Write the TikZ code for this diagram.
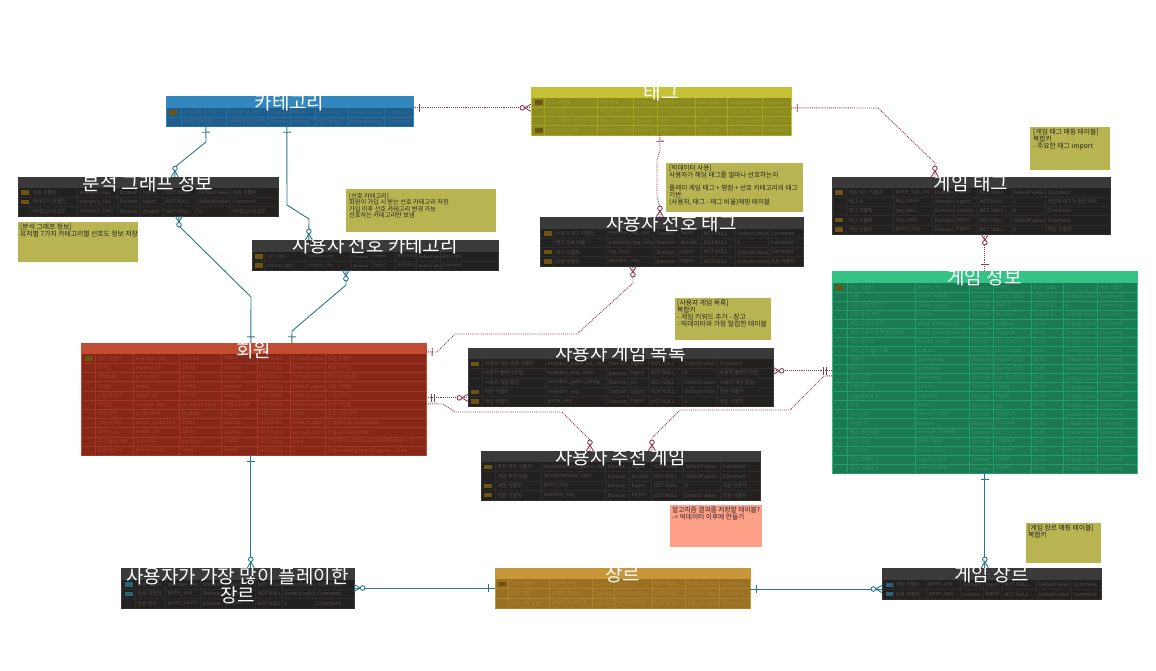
\documentclass[tikz,border=0pt]{standalone}
\usepackage{fontspec}
\setmainfont{Noto Sans CJK KR}
\usetikzlibrary{fit,decorations.markings}
\AtBeginDocument{\catcode`\_=12 }

% table colours
\definecolor{blueHead}{HTML}{3287BE}\definecolor{blueBody}{HTML}{1F5E8C}\definecolor{blueText}{HTML}{3A6C94}
\definecolor{oliveHead}{HTML}{C4C234}\definecolor{oliveBody}{HTML}{8B8B1E}\definecolor{oliveText}{HTML}{9C9C38}
\definecolor{darkHead}{HTML}{3A3A3A}\definecolor{darkBody}{HTML}{232120}\definecolor{darkText}{HTML}{524D48}
\definecolor{greenHead}{HTML}{34C384}\definecolor{greenBody}{HTML}{1A7A52}\definecolor{greenText}{HTML}{389466}
\definecolor{redHead}{HTML}{C24B33}\definecolor{redBody}{HTML}{862718}\definecolor{redText}{HTML}{A24432}
\definecolor{goldHead}{HTML}{C8963A}\definecolor{goldBody}{HTML}{9A7022}\definecolor{goldText}{HTML}{AD853A}
\definecolor{keycol}{HTML}{6E5414}
\definecolor{fkeycol}{HTML}{2A6278}
\definecolor{noteolive}{HTML}{B8B452}
\definecolor{notesalmon}{HTML}{FFA088}
\definecolor{linkteal}{HTML}{287887}
\definecolor{linkred}{HTML}{8C3C50}

\tikzset{
  tabletitle/.style={text=white, font=\fontsize{19}{19}\selectfont, inner sep=0pt, align=center},
  cell/.style={anchor=west, inner sep=0pt, font=\fontsize{5}{5}\selectfont},
  note/.style={anchor=north west, align=left, inner sep=0pt, text=black!85,
    font=\fontsize{6.8}{7}\selectfont},
  rel/.style={line width=0.9pt},
  teallink/.style={rel, linkteal},
  dotlink/.style={rel, linkred, densely dotted},
  one/.style={postaction={decorate, decoration={markings,
    mark=at position 6pt with {\draw[solid] (0pt,-4pt) -- (0pt,4pt);}}}},
  onlyone/.style={postaction={decorate, decoration={markings,
    mark=at position 5pt with {\draw[solid] (0pt,-4pt) -- (0pt,4pt);},
    mark=at position 8pt with {\draw[solid] (0pt,-4pt) -- (0pt,4pt);}}}},
  many/.style={postaction={decorate, decoration={markings,
    mark=at position 1 with {\draw[solid] (-6pt,0pt) -- (0pt,3.5pt) (-6pt,0pt) -- (0pt,-3.5pt);
      \draw[solid, fill=white] (-8.5pt,0pt) circle (2.3pt);}}}},
}

% #1 node, #2 colour set, #3 x1, #4 y1, #5 x2, #6 y2, #7 header bottom
\newcommand{\erdtable}[7]{%
  \fill[#2Body] (#3,#4) rectangle (#5,#6);
  \fill[#2Head] (#3,#4) rectangle (#5,#7);
  \draw[#2Head, line width=0.8pt] (#3,#4) rectangle (#5,#6);
  \node[fit={(#3,#4) (#5,#6)}, inner sep=0pt] (#1) {};
}
% #1 node, #2 colour set, #3 x2, #4 first row top, #5 row height, #6 column starts, #7 rows
\newcommand{\erdrows}[7]{%
  \pgfmathsetmacro{\xa}{{#6}[0]}
  \foreach \row [count=\ri] in {#7} {
    \pgfmathsetmacro{\rtop}{#4+(\ri-1)*#5}
    \pgfmathsetmacro{\rmid}{#4+(\ri-0.5)*#5}
    \pgfmathsetmacro{\rbot}{#4+\ri*#5}
    \draw[#2Head!45!#2Body, line width=0.6pt] (\xa,\rbot) -- (#3,\rbot);
    \foreach \cell [count=\ci] in \row {
      \pgfmathsetmacro{\cx}{{#6}[\ci-1]}
      \ifnum\ci=1
        \ifnum\strcmp{\cell}{k}=0
          \fill[keycol] (\cx+3,\rmid-2.2) rectangle (\cx+11,\rmid+2.2);
        \fi
        \ifnum\strcmp{\cell}{f}=0
          \fill[fkeycol] (\cx+3,\rmid-2.2) rectangle (\cx+11,\rmid+2.2);
        \fi
      \else
        \draw[#2Head!45!#2Body, line width=0.6pt] (\cx,\rtop) -- (\cx,\rbot);
        \node[cell, #2Text] (#1-\ri-\ci) at (\cx+2.5,\rmid) {\cell};
      \fi
    }
  }
}

\begin{document}
\begin{tikzpicture}[x=1pt,y=-1pt]
\fill[white] (0,0) rectangle (1156,670);
\useasboundingbox (0,0) rectangle (1156,670);

% categories
\erdtable{cat}{blue}{166}{96}{413}{126}{108}
\erdrows{cat}{blue}{413}{108}{9}{166,181,226,268,290,315,348,384}{%
{k,카테고리 식별자,category_seq,Domain,bigint,NOT NULL,Default value,Comment},%
{-,카테고리 이름,category_name,Domain,varchar,NOT NULL,Default value,Comment}}
\node[tabletitle] (cat-title) at ([yshift=-7pt]cat.north) {카테고리};

% tags
\erdtable{tag}{olive}{531}{87}{791}{135}{98}
\erdrows{tag}{olive}{791}{98}{9.25}{532,544,597,633,657,695,727,762}{%
{k,태그 식별자,tag_seq,Domain,bigint,NOT NULL,Default value,Comment},%
{-,태그 이름,tag_name,Domain,varchar(255),NULL,Default value,Comment},%
{-,태그 이름 한글버전,tag_name_kr,Domain,text,NULL,Default value,Comment},%
{k,카테고리 식별자,category_seq,Domain,bigint,NOT NULL,Default value,Comment}}
\node[tabletitle] (tag-title) at ([yshift=-6pt]tag.north) {태그};

% analysis graph
\erdtable{graph}{dark}{18}{177}{278}{216}{188}
\erdrows{graph}{dark}{278}{188}{9.33}{18,30,77,117,140,163,196,230}{%
{k,회원 식별자,member_seq,Domain,bigint,NOT NULL,Default value,회원 식별자},%
{k,카테고리 식별자,category_seq,Domain,bigint,NOT NULL,Default value,Comment},%
{-,카테고리 선호도,category_ratio,Domain,double,NOT NULL,0,카테고리 선호도}}
\node[tabletitle] (graph-title) at ([yshift=-7pt]graph.north) {분석 그래프 정보};

% preferred categories
\erdtable{prefcat}{dark}{252}{240}{498}{270}{252}
\begin{scope}[cell/.append style={font=\fontsize{4}{4}\selectfont}]
\erdrows{prefcat}{dark}{498}{252}{9}{252,264,305,351,372,395,416,440}{%
{k,회원 식별자,member_seq,Domain,bigint,NOT NULL,Default value,회원 식별자},%
{k,카테고리 식별자,category_seq,Domain,bigint,NOT NULL,Default value,Comment}}
\end{scope}
\node[tabletitle] (prefcat-title) at ([yshift=-6pt]prefcat.north) {사용자 선호 카테고리};

% preferred tags
\erdtable{preftag}{dark}{540}{217}{803}{266}{229}
\erdrows{preftag}{dark}{803}{229}{9.25}{541,553,606,654,678,701,735,768}{%
{k,사용자 태그 식별자,member_tag_seq,Domain,bigint,NOT NULL,Default value,Comment},%
{-,태그 선호 비율,preferred_tag_ratio,Domain,double,NOT NULL,0,Comment},%
{k,태그 식별자,tag_seq2,Domain,bigint,NOT NULL,Default value,Comment},%
{k,회원 식별자,member_seq,Domain,bigint,NOT NULL,Default value,회원 식별자}}
\node[tabletitle] (preftag-title) at ([yshift=-7pt]preftag.north) {사용자 선호 태그};

% game tags
\erdtable{gametag}{dark}{832}{177}{1110}{234}{188}
\erdrows{gametag}{dark}{1110}{188}{9.2}{832,846,893,932,954,977,1011,1045}{%
{k,게임 태그 식별자,game_tag_seq,Domain,bigint,NOT NULL,Default value,Comment},%
{-,태그 수,tag_count,Domain,bigint,NOT NULL,0,게임에 태그가 달린 횟수},%
{-,태그 가중치,tag_ratio,Domain,double,NOT NULL,0,Comment},%
{k,태그 식별자,tag_seq2,Domain,bigint,NOT NULL,Default value,Comment},%
{k,게임 식별자,game_seq,Domain,bigint,NOT NULL,0,게임 식별자}}
\node[tabletitle] (gametag-title) at ([yshift=-7pt]gametag.north) {게임 태그};

% games
\erdtable{game}{green}{832}{271}{1137}{473}{283}
\erdrows{game}{green}{1137}{283}{9.05}{832,847,915,969,993,1031,1063,1097}{%
{k,게임 식별자,game_seq,Domain,bigint,NOT NULL,0,게임 식별자},%
{-,이름,game_name,Domain,varchar(255),NOT NULL,Default value,Comment},%
{-,스팀 고유 아이디,steam_appid,Domain,bigint,NOT NULL,0,Comment},%
{-,무료 게임 여부,is_free,Domain,boolean,NOT NULL,Default value,Comment},%
{-,게임 스토리 요약,short_description,Domain,longtext,NULL,Default value,Comment},%
{-,게임 스토리 요약 한글버전,short_description_kr,Domain,longtext,NULL,Default value,Comment},%
{-,헤더 이미지,header_image,Domain,varchar(255),NULL,Default value,Comment},%
{-,게임 공식 웹사이트,website,Domain,varchar(255),NULL,Default value,Comment},%
{-,개발자,developers,Domain,varchar(255),NULL,Default value,Comment},%
{-,제조사,publisher,Domain,varchar(255),NULL,Default value,Comment},%
{-,실행 환경,platforms,Domain,varchar(255),NULL,Default value,Comment},%
{-,스팀 추천 수,positive,Domain,bigint,NULL,Default value,Comment},%
{-,스팀 비추천 수,negative,Domain,bigint,NULL,Default value,Comment},%
{-,가격,price,Domain,int,NULL,Default value,Comment},%
{-,출시일자,release_date,Domain,longtext,NULL,Default value,Comment},%
{-,트레일러,movies,Domain,longtext,NULL,Default value,Comment},%
{-,평균 게임 시간,average_forever,Domain,int,NULL,Default value,Comment},%
{-,지원 언어,languages,Domain,longtext,NULL,Default value,Comment},%
{-,스크린샷,screenshots,Domain,longtext,NULL,Default value,Comment},%
{-,최소 구매자 수,owners_min,Domain,bigint,NULL,Default value,Comment},%
{-,최대 구매자 수,owners_max,Domain,bigint,NULL,Default value,Comment}}
\node[tabletitle] (game-title) at ([yshift=-7pt]game.north) {게임 정보};

% members
\erdtable{member}{red}{81}{343}{426}{455}{354}
\erdrows{member}{red}{426}{354}{9.2}{82,95,133,179,221,257,290,325}{%
{k,회원 식별자,member_seq,Domain,bigint,NOT NULL,Default value,회원 식별자},%
{-,아이디,express_id,String,varchar,NOT NULL,Default value,회원 아이디},%
{-,비밀번호,password,String,varchar,NOT NULL,Default value,회원 비밀번호},%
{-,이메일,email,String,varchar,NOT NULL,Default value,회원 이메일},%
{-,스팀 아이디,steam_id,String,varchar,NOT NULL,Default value,스팀 아이디},%
{-,가입일,created_date,LocalDateTime,TIMESTAMP,NOT NULL,Default value,회원 가입일},%
{-,삭제 여부,is_deleted,boolean,tinyint,NOT NULL,false,회원 삭제 여부},%
{-,스팀 닉네임,steam_nickname,String,varchar,NOT NULL,Default value,스팀 API personaname},%
{-,아바타 url,avatar_url,String,varchar,NOT NULL,Default value,스팀 API avatarfull},%
{-,공개 설정 여부,is_public,boolean,tinyint,NOT NULL,false,스팀 API communityvisibilitystate → 3},%
{-,보유 게임 수,game_count,Long,bigint,NOT NULL,0,스팀 owned game API game_count}}
\node[tabletitle] (member-title) at ([yshift=-7.5pt]member.north) {회원};

% member game list
\erdtable{gamelist}{dark}{468}{348}{773}{406}{359}
\erdrows{gamelist}{dark}{773}{359}{9.4}{468,482,545,606,628,648,682,717}{%
{k,사용자 게임 목록 식별자,member_game_list_seq,Domain,bigint,NOT NULL,Default value,Comment},%
{-,사용자 플레이 타임,member_play_time,Domain,bigint,NOT NULL,0,사용자 플레이 타임},%
{-,사용자 게임 평점,member_game_rating,Domain,int,NOT NULL,Default value,사용자 게임 평점},%
{k,회원 식별자,member_seq,Domain,bigint,NOT NULL,Default value,회원 식별자},%
{k,게임 식별자,game_seq,Domain,bigint,NOT NULL,0,게임 식별자}}
\node[tabletitle] (gamelist-title) at ([yshift=-5.5pt]gamelist.north) {사용자 게임 목록};

% recommended games
\erdtable{recgame}{dark}{481}{451}{760}{500}{462}
\erdrows{recgame}{dark}{760}{462}{9.5}{481,495,541,605,629,651,683,720}{%
{k,추천 게임 식별자,recommended_game_seq,Domain,bigint,NOT NULL,Default value,Comment},%
{-,게임 추천 비율,recommended_ratio,Domain,double,NOT NULL,Default value,Comment},%
{k,게임 식별자,game_seq,Domain,bigint,NOT NULL,0,게임 식별자},%
{k,회원 식별자,member_seq,Domain,bigint,NOT NULL,Default value,회원 식별자}}
\node[tabletitle] (recgame-title) at ([yshift=-7pt]recgame.north) {사용자 추천 게임};

% most played genre
\erdtable{topgenre}{dark}{121}{568}{354}{608}{580}
\erdrows{topgenre}{dark}{354}{580}{9.3}{122,135,165,200,225,255,282,315}{%
{f,회원 식별자,member_seq,Domain,bigint,NOT NULL,Default value,회원 식별자},%
{f,장르 식별자,genre_seq,Domain,bigint,NOT NULL,Default value,Comment},%
{-,장르 횟수,genre_count,Domain,bigint,NOT NULL,0,Comment}}
\node[tabletitle] (topgenre-title) at ([yshift=-18pt]topgenre.north) {사용자가 가장 많이 플레이한\\장르};

% genres
\erdtable{genre}{gold}{495}{568}{750}{608}{579}
\erdrows{genre}{gold}{750}{579}{9.67}{495,508,549,592,614,652,685,719}{%
{k,장르 식별자,genre_seq,Domain,bigint,NOT NULL,Default value,Comment},%
{-,장르 이름,genre_name,Domain,varchar(255),NOT NULL,Default value,Comment},%
{-,장르 이름 한글,genre_name_kr,Domain,varchar(255),NOT NULL,Default value,Comment}}
\node[tabletitle] (genre-title) at ([yshift=-6.5pt]genre.north) {장르};

% game genres
\erdtable{gamegenre}{dark}{882}{568}{1101}{599}{580}
\erdrows{gamegenre}{dark}{1101}{580}{9.5}{883,893,926,960,983,1002,1036,1071}{%
{f,게임 식별자,game_seq,Domain,bigint,NOT NULL,Default value,Comment},%
{f,장르 식별자,genre_seq,Domain,bigint,NOT NULL,Default value,Comment}}
\node[tabletitle] (gamegenre-title) at ([yshift=-7pt]gamegenre.north) {게임 장르};

% notes
\fill[noteolive] (18,222) rectangle (138,262);
\node[note] (graph-note) at (20,224)
  {[분석 그래프 정보]\\유저별 7가지 카테고리별 선호도 정보 저장};
\fill[noteolive] (346,189) rectangle (496,232);
\node[note, font=\fontsize{6.2}{6.4}\selectfont] (prefcat-note) at (349,193)
  {[선호 카테고리]\\회원이 가입 시 받는 선호 카테고리 저장\\가입 이후 선호 카테고리 변경 가능\\선호하는 카테고리만 보냄};
\fill[noteolive] (666,163) rectangle (803,212);
\node[note, font=\fontsize{6.6}{7}\selectfont] (preftag-note) at (669,165)
  {[빅데이터 사용]\\사용자가 해당 태그를 얼마나 선호하는지\\[6pt]플레이 게임 태그 + 평점 + 선호 카테고리의 태그\\기반\\(사용자, 태그 - 태그 비율)매핑 테이블};
\fill[noteolive] (1030,127) rectangle (1110,170);
\node[note] (gametag-note) at (1033,129)
  {[게임 태그 매핑 테이블]\\복합키\\- 주요한 태그 import};
\fill[noteolive] (675,298) rectangle (771,340);
\node[note] (gamelist-note) at (677,300)
  {[사용자 게임 목록]\\복합키\\- 게임 키워드 추가 - 장고\\- 빅데이터와 가장 밀접한 테이블};
\fill[notesalmon] (670,505) rectangle (762,547);
\node[note, font=\fontsize{6.7}{6.8}\selectfont] (recgame-note) at (672,507)
  {알고리즘 결과를 저장할 테이블?\\-> 빅데이터 이후에 만들기};
\fill[noteolive] (1026,523) rectangle (1101,563);
\node[note] (gamegenre-note) at (1028,525)
  {[게임 장르 매핑 테이블]\\복합키};

% solid relations
\draw[teallink, one, many] ([xshift=40pt]cat.south west) -- (206,142) -- (175,167) -- ([xshift=157pt]graph.north west);
\draw[teallink, one, many] ([xshift=121pt]cat.south west) -- (287,205) -- (309,219) -- ([xshift=57pt]prefcat.north west);
\draw[teallink, one, many] ([xshift=170pt]member.north west) -- (251,297) -- (179,226) -- ([xshift=161pt]graph.south west);
\draw[teallink, one, many] ([xshift=211pt]member.north west) -- (292,331) -- (346,285) -- ([xshift=94pt]prefcat.south west);
\draw[teallink, one, many] ([xshift=170pt]member.south west) -- ([xshift=130pt]topgenre.north west);
\draw[teallink, one, many] (genre.west) -- (genre.west -| topgenre.east);
\draw[teallink, one, many] ([yshift=-1pt]genre.east) -- ([yshift=-1pt]genre.east -| gamegenre.west);
\draw[teallink, one, many] ([xshift=153pt]game.south west) -- ([xshift=103pt]gamegenre.north west);

% dotted relations
\draw[dotlink, one, many] ([yshift=-12pt]cat.north east) -- ([yshift=-21pt]tag.north west);
\draw[dotlink, one, many] ([xshift=129pt]tag.south west) -- (660,150) -- (657,160) -- (657,197) -- (660,207) -- ([xshift=120pt]preftag.north west);
\draw[dotlink, one, many] ([yshift=-21pt]tag.north east) -- (878,108) -- (935,163) -- ([xshift=103pt]gametag.north west);
\draw[dotlink, one, many] ([yshift=-9pt]member.north east) -- (437,352) -- (455,334) -- (577,334) -- (633,283) -- ([xshift=93pt]preftag.south west);
\draw[dotlink, onlyone, many] ([yshift=-55pt]member.north east) -- ([yshift=-50pt]gamelist.north west);
\draw[dotlink, many] ([yshift=-61pt]member.north east) -- (443,404) -- (455,412) -- (562,412) -- (590,440) -- ([xshift=109pt]recgame.north west);
\draw[dotlink, onlyone, many] ([yshift=-100pt]game.north west) -- ([yshift=-23pt]gamelist.north east);
\draw[dotlink, many] ([yshift=-105pt]game.north west) -- (824,376) -- (790,410) -- (680,410) -- (652,438) -- ([xshift=171pt]recgame.north west);
\draw[dotlink, one, many] ([xshift=153pt]game.north west) -- ([xshift=153pt]gametag.south west);
\end{tikzpicture}
\end{document}
